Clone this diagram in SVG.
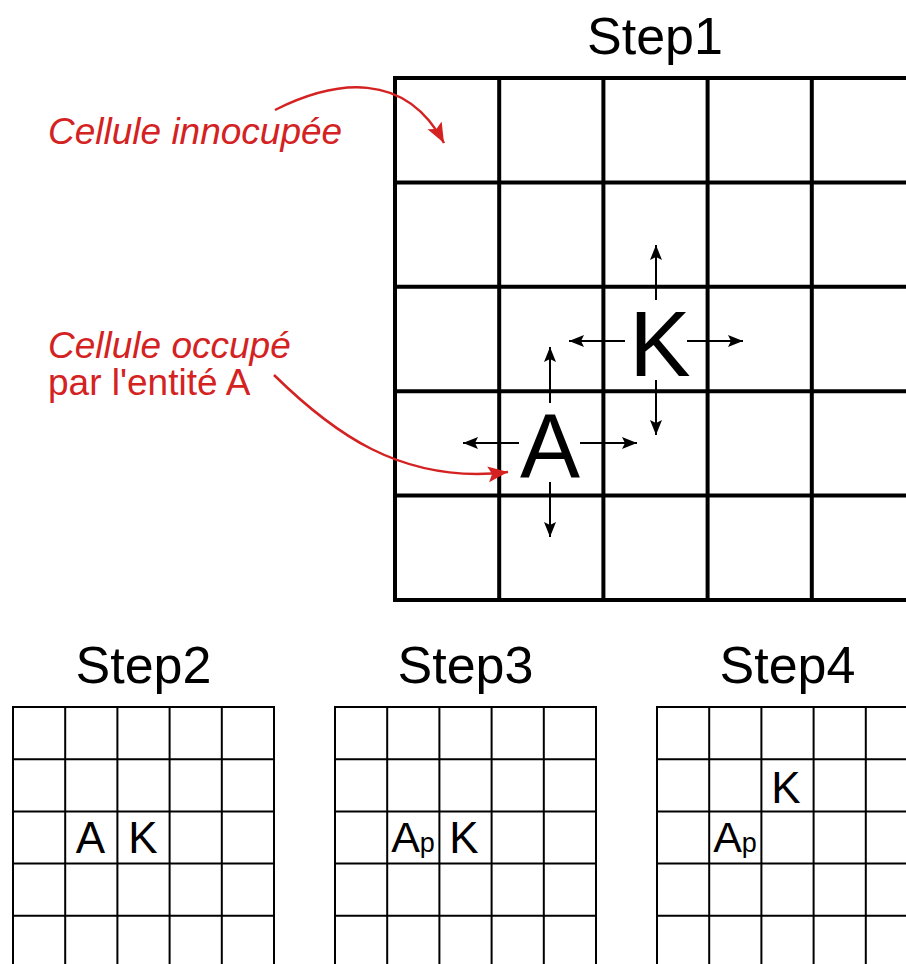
<svg xmlns="http://www.w3.org/2000/svg" width="906" height="964" viewBox="0 0 906 964">
<style>
.bg{fill:#fff}
.big{fill:none;stroke:#000;stroke-width:4}
.small{fill:none;stroke:#000;stroke-width:2}
.title{font-family:"Liberation Sans",Arial,sans-serif;font-size:52px;fill:#000;text-anchor:middle}
.ent{font-family:"Liberation Sans",Arial,sans-serif;fill:#000;text-anchor:middle}
.note{font-family:"Liberation Sans",Arial,sans-serif;font-size:37px;fill:#d42222}
.arr{fill:none;stroke:#000;stroke-width:2}
.red{fill:none;stroke:#d42222;stroke-width:2.5}
</style>
<defs>
<marker id="ah" viewBox="0 -7 15 14" refX="15" refY="0" markerWidth="15" markerHeight="14" markerUnits="userSpaceOnUse" orient="auto">
<path d="M0,-6 L15,0 L0,6 L3,0 z" fill="#000"/>
</marker>
<marker id="rh" viewBox="0 -9 20 18" refX="20" refY="0" markerWidth="20" markerHeight="18" markerUnits="userSpaceOnUse" orient="auto">
<path d="M0,-8 L20,0 L0,8 L4,0 z" fill="#d42222"/>
</marker>
</defs>
<rect class="bg" x="0" y="0" width="906" height="964"/>

<g id="step1">
<text class="title" x="655" y="54">Step1</text>
<rect class="big" x="395" y="78" width="521" height="522"/>
<path class="big" d="M499.2,78V600M603.4,78V600M707.6,78V600M811.8,78V600M395,182.4H916M395,286.8H916M395,391.2H916M395,495.6H916"/>
</g>

<g id="entity-K">
<text class="ent" x="660" y="376" font-size="92">K</text>
</g>
<g id="entity-A">
<text class="ent" x="550" y="477" font-size="90">A</text>
</g>

<g id="connectors">
<path class="arr" marker-end="url(#ah)" d="M656,300V245"/>
<path class="arr" marker-end="url(#ah)" d="M625,341H569"/>
<path class="arr" marker-end="url(#ah)" d="M687,341H743"/>
<path class="arr" marker-end="url(#ah)" d="M656,380V435"/>
<path class="arr" marker-end="url(#ah)" d="M550,403V347"/>
<path class="arr" marker-end="url(#ah)" d="M519,443H463"/>
<path class="arr" marker-end="url(#ah)" d="M580,443H637"/>
<path class="arr" marker-end="url(#ah)" d="M550,482V537"/>
<path class="red" marker-end="url(#rh)" d="M275,110 C335,80 405,70 444,143"/>
<path class="red" marker-end="url(#rh)" d="M274,375 C330,430 400,485 508,472"/>
</g>

<g id="note-empty">
<text class="note" x="48" y="144" font-style="italic">Cellule innocupée</text>
</g>
<g id="note-occupied">
<text class="note" x="48" y="358" font-style="italic">Cellule occupé</text>
<text class="note" x="48" y="395">par l'entité A</text>
</g>

<g id="step2">
<text class="title" x="143.5" y="683">Step2</text>
<rect class="small" x="13" y="707" width="261" height="270"/>
<path class="small" d="M65.2,707V964M117.4,707V964M169.6,707V964M221.8,707V964M13,759.2H274M13,811.4H274M13,863.6H274M13,915.8H274"/>
<text class="ent" x="90.5" y="853" font-size="44">A</text>
<text class="ent" x="143" y="853" font-size="44">K</text>
</g>

<g id="step3">
<text class="title" x="465.5" y="683">Step3</text>
<rect class="small" x="335" y="707" width="261" height="270"/>
<path class="small" d="M387.2,707V964M439.4,707V964M491.6,707V964M543.8,707V964M335,759.2H596M335,811.4H596M335,863.6H596M335,915.8H596"/>
<text class="ent" x="413" y="852" font-size="43">A<tspan font-size="27">p</tspan></text>
<text class="ent" x="464" y="853" font-size="44">K</text>
</g>

<g id="step4">
<text class="title" x="787.5" y="683">Step4</text>
<rect class="small" x="657" y="707" width="270" height="270"/>
<path class="small" d="M709.2,707V964M761.4,707V964M813.6,707V964M865.8,707V964M657,759.2H918M657,811.4H918M657,863.6H918M657,915.8H918"/>
<text class="ent" x="786" y="803" font-size="44">K</text>
<text class="ent" x="735" y="852" font-size="43">A<tspan font-size="27">p</tspan></text>
</g>
</svg>
